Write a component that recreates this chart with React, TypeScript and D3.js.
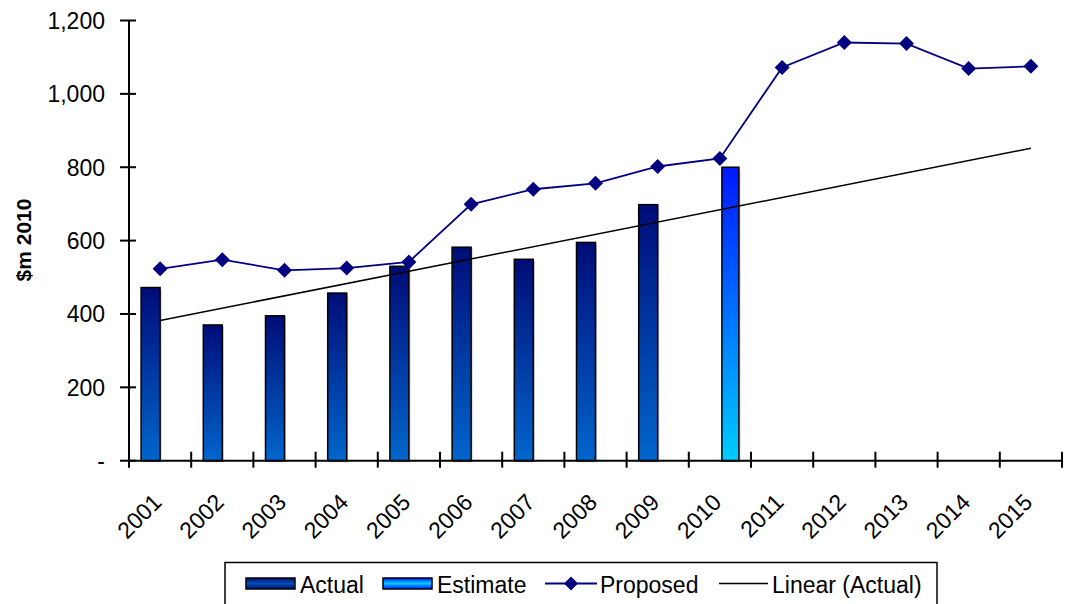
import React from "react";
import * as d3 from "d3";

const years = ["2001","2002","2003","2004","2005","2006","2007","2008","2009","2010","2011","2012","2013","2014","2015"];
const actual: (number | null)[] = [472, 370, 395, 457, 530, 582, 549, 595, 698, null, null, null, null, null, null];
const estimate: (number | null)[] = [null, null, null, null, null, null, null, null, null, 800, null, null, null, null, null];
const proposed = [523, 548, 519, 525, 542, 699, 740, 756, 802, 824, 1072, 1140, 1137, 1069, 1075];
const yTicks = [0, 200, 400, 600, 800, 1000, 1200];

const W = 1066, H = 604;
const left = 129, right = 1062, top = 20.5, bottom = 460.7;
const FONT = "Liberation Sans, Arial, sans-serif";

export default function App() {
  const x = d3.scaleBand<string>().domain(years).range([left, right]).padding(0);
  const y = d3.scaleLinear().domain([0, 1200]).range([bottom, top]);
  const bw = x.bandwidth();
  const cx = (yr: string) => (x(yr) as number) + bw / 2;

  // linear trend of actual
  const pts = actual.map((v, i) => ({ i: i + 1, v })).filter(d => d.v != null) as { i: number; v: number }[];
  const mx = d3.mean(pts, d => d.i) as number;
  const my = d3.mean(pts, d => d.v) as number;
  const slope = d3.sum(pts, d => (d.i - mx) * (d.v - my)) / d3.sum(pts, d => (d.i - mx) ** 2);
  const icpt = my - slope * mx;
  const trend = (i: number) => icpt + slope * i;

  const line = d3.line<number>().x((_, i) => cx(years[i])).y(d => y(d));
  const diamond = (px: number, py: number, r = 7.5) =>
    `M${px},${py - r}L${px + r},${py}L${px},${py + r}L${px - r},${py}Z`;

  const barW = 19;
  const ly = 583.5;
  const lb = 592.5;
  return (
    <svg width={W} height={H} style={{ position: "absolute", left: 0, top: 0, background: "#fff" }} fontFamily={FONT}>
      <defs>
        <linearGradient id="gA" x1="0" y1="0" x2="0" y2="1">
          <stop offset="0" stopColor="#000c78" />
          <stop offset="1" stopColor="#0066cc" />
        </linearGradient>
        <linearGradient id="gE" x1="0" y1="0" x2="0" y2="1">
          <stop offset="0" stopColor="#0018ff" />
          <stop offset="1" stopColor="#00ccff" />
        </linearGradient>
        <linearGradient id="gAL" x1="0" y1="0" x2="0" y2="1">
          <stop offset="0" stopColor="#000c78" />
          <stop offset="0.5" stopColor="#0050b0" />
          <stop offset="1" stopColor="#000c78" />
        </linearGradient>
        <linearGradient id="gEL" x1="0" y1="0" x2="0" y2="1">
          <stop offset="0" stopColor="#0018ff" />
          <stop offset="0.5" stopColor="#00ccff" />
          <stop offset="1" stopColor="#0018ff" />
        </linearGradient>
      </defs>

      {/* bars */}
      {actual.map((v, i) => v == null ? null : (
        <g key={"a" + i}>
          <rect x={cx(years[i]) - barW + 1.5} y={y(v) + 1.5} width={barW} height={bottom - y(v)} fill="#c8c8c8" />
          <rect x={cx(years[i]) - barW} y={y(v)} width={barW} height={bottom - y(v)} fill="url(#gA)" stroke="#000" strokeWidth={1.5} />
        </g>
      ))}
      {estimate.map((v, i) => v == null ? null : (
        <g key={"e" + i}>
          <rect x={cx(years[i]) + 2 + 1.5} y={y(v) + 1.5} width={17} height={bottom - y(v)} fill="#c8c8c8" />
          <rect x={cx(years[i]) + 2} y={y(v)} width={17} height={bottom - y(v)} fill="url(#gE)" stroke="#000" strokeWidth={1.5} />
        </g>
      ))}

      {/* trend */}
      <line x1={cx(years[0])} y1={y(trend(1))} x2={cx(years[14])} y2={y(trend(15))} stroke="#000" strokeWidth={1.5} />

      {/* proposed */}
      <path d={line(proposed) as string} fill="none" stroke="#000080" strokeWidth={1.8} />
      {proposed.map((v, i) => (
        <path key={"p" + i} d={diamond(cx(years[i]), y(v))} fill="#000080" />
      ))}

      {/* y axis */}
      <line x1={left} y1={top} x2={left} y2={bottom} stroke="#000" strokeWidth={2} />
      {yTicks.map(t => (
        <g key={"yt" + t}>
          <line x1={left - 9} x2={left + 7} y1={y(t)} y2={y(t)} stroke="#000" strokeWidth={2} />
          <text x={left - 24} y={y(t)} dy="0.36em" textAnchor="end" fontSize={23} fill="#000">
            {t === 0 ? "-" : d3.format(",")(t)}
          </text>
        </g>
      ))}
      <text transform={`translate(31,240) rotate(-90)`} textAnchor="middle" fontSize={21} fontWeight="bold">$m 2010</text>

      {/* x axis */}
      <line x1={left} y1={bottom} x2={right} y2={bottom} stroke="#000" strokeWidth={2} />
      {d3.range(years.length + 1).map(i => (
        <line key={"xt" + i} x1={left + i * bw} x2={left + i * bw} y1={bottom - 9} y2={bottom + 7} stroke="#000" strokeWidth={2} />
      ))}
      {years.map(yr => (
        <text key={"xl" + yr} transform={`translate(${cx(yr) + 3},${bottom + 43}) rotate(-45)`} textAnchor="end" fontSize={23}>
          {yr}
        </text>
      ))}

      {/* legend */}
      <rect x={225} y={562.5} width={712} height={60} fill="#fff" stroke="#000" strokeWidth={1.5} />
      <rect x={246} y={578} width={49} height={11} fill="url(#gAL)" stroke="#000" strokeWidth={1.5} />
      <text x={300} y={lb} fontSize={23}>Actual</text>
      <rect x={383} y={578} width={49} height={11} fill="url(#gEL)" stroke="#000" strokeWidth={1.5} />
      <text x={437} y={lb} fontSize={23}>Estimate</text>
      <line x1={545} x2={597} y1={ly} y2={ly} stroke="#000080" strokeWidth={1.8} />
      <path d={diamond(571, ly, 7)} fill="#000080" />
      <text x={600} y={lb} fontSize={23}>Proposed</text>
      <line x1={719} x2={768} y1={ly} y2={ly} stroke="#000" strokeWidth={1.5} />
      <text x={772} y={lb} fontSize={23}>Linear (Actual)</text>
    </svg>
  );
}
